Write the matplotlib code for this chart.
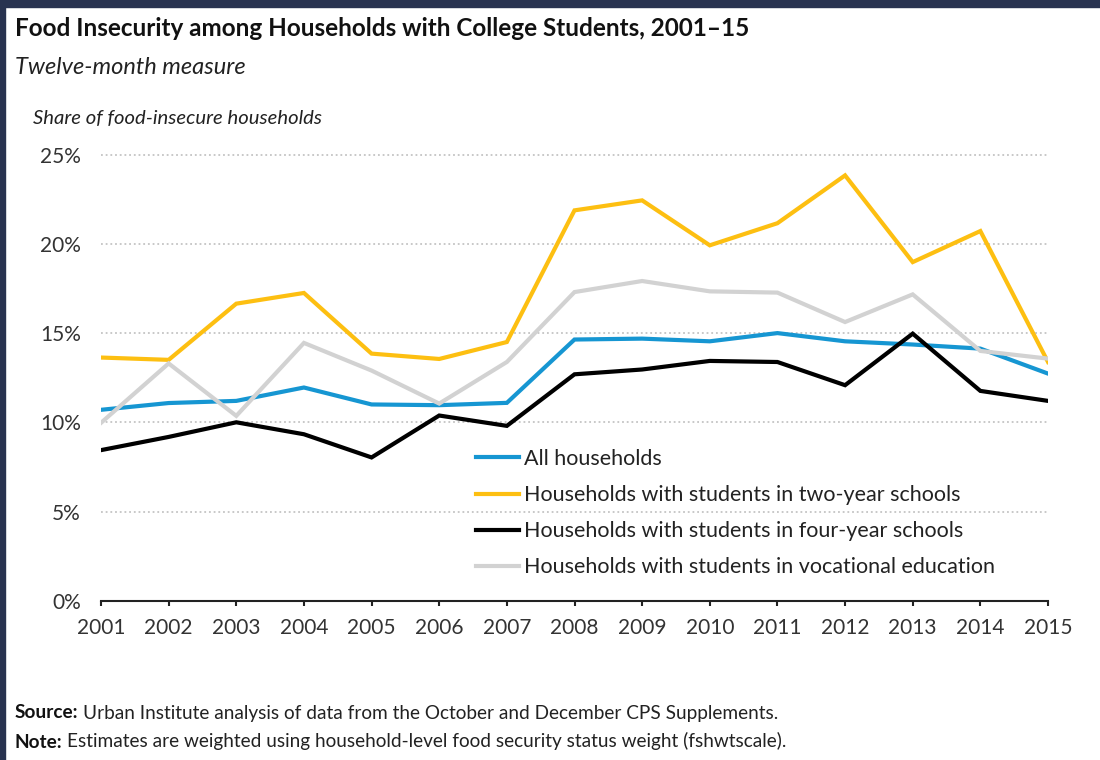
import matplotlib
matplotlib.use("Agg")
import matplotlib.pyplot as plt
from matplotlib.patches import Rectangle

plt.rcParams['font.family'] = ['Lato', 'DejaVu Sans']

# Data (share of food-insecure households, %)
years = list(range(2001, 2016))
all_households = [10.7, 11.08, 11.2, 11.95, 11.0, 10.96, 11.09, 14.64, 14.69, 14.54, 15.0, 14.54, 14.36, 14.13, 12.73]
two_year = [13.63, 13.5, 16.65, 17.25, 13.85, 13.55, 14.5, 21.88, 22.44, 19.92, 21.16, 23.84, 18.98, 20.72, 13.38]
four_year = [8.44, 9.18, 10.0, 9.33, 8.03, 10.38, 9.8, 12.69, 12.96, 13.44, 13.38, 12.08, 14.97, 11.76, 11.2]
vocational = [9.97, 13.3, 10.36, 14.45, 12.9, 11.05, 13.38, 17.3, 17.92, 17.34, 17.27, 15.62, 17.17, 14.0, 13.57]

labels = ['All households',
          'Households with students in two-year schools',
          'Households with students in four-year schools',
          'Households with students in vocational education']
colors = ['#1696d2', '#fdbf11', '#000000', '#d2d2d2']
yticks = [0, 5, 10, 15, 20, 25]

W, H = 1100, 760
fig = plt.figure(figsize=(W / 100, H / 100), dpi=100)

# dark frame on top and left
fig.patches.append(Rectangle((0, 1 - 7 / H), 1, 7 / H, transform=fig.transFigure, color='#283350', zorder=0))
fig.patches.append(Rectangle((0, 0), 5 / W, 1, transform=fig.transFigure, color='#283350', zorder=0))

ax = fig.add_axes([101 / W, 1 - 600.7 / H, (1048 - 101) / W, (600.7 - 154.7) / H])
ax.set_xlim(2001, 2015)
ax.set_ylim(0, 25)

for series, lab, col in zip([all_households, two_year, four_year, vocational], labels, colors):
    ax.plot(years, series, color=col, lw=3, label=lab, solid_joinstyle='miter', zorder=3)

# gridlines
for y in yticks[1:]:
    ax.axhline(y, color='#c4c4c4', lw=1.3, linestyle=(0, (1, 1.6)), zorder=1, clip_on=False)

for s in ['top', 'right', 'left']:
    ax.spines[s].set_visible(False)
ax.spines['bottom'].set_color('#222222')
ax.spines['bottom'].set_linewidth(1.5)

ax.set_xticks(years)
ax.set_xticklabels([str(y) for y in years])
ax.set_yticks(yticks)
ax.set_yticklabels([f'{y}%' for y in yticks])
ax.tick_params(axis='x', length=3.6, width=1.5, color='#222222', labelsize=15, labelcolor='#333333', pad=9)
ax.tick_params(axis='y', length=0, labelsize=15, labelcolor='#333333', pad=14.4)

ax.legend(loc='upper left', bbox_to_anchor=(476 / W, 1 - 449 / H), bbox_transform=fig.transFigure,
          frameon=False, fontsize=15.5, handlelength=2.0, handletextpad=0.23, labelspacing=0.75,
          borderpad=0, borderaxespad=0, labelcolor='#222222')

fig.text(15 / W, 1 - 28 / H, 'Food Insecurity among Households with College Students, 2001–15',
         fontsize=17.5, fontweight='bold', color='#111111', va='center', ha='left')
fig.text(15 / W, 1 - 67 / H, 'Twelve-month measure', fontsize=17, style='italic',
         color='#222222', va='center', ha='left')
fig.text(33 / W, 1 - 118 / H, 'Share of food-insecure households', fontsize=14.6, style='italic',
         color='#222222', va='center', ha='left')

src = fig.text(15 / W, 1 - 721.5 / H, 'Source:', fontsize=13.7, fontweight='bold', color='#111111', va='bottom')
ax.annotate('Urban Institute analysis of data from the October and December CPS Supplements.',
            xy=(1, 0), xycoords=src, xytext=(3, 0), textcoords='offset points',
            fontsize=13.7, color='#222222', va='bottom', ha='left')
note = fig.text(15 / W, 1 - 750.5 / H, 'Note:', fontsize=13.7, fontweight='bold', color='#111111', va='bottom')
ax.annotate('Estimates are weighted using household-level food security status weight (fshwtscale).',
            xy=(1, 0), xycoords=note, xytext=(3, 0), textcoords='offset points',
            fontsize=13.7, color='#222222', va='bottom', ha='left')

fig.savefig('out.png', dpi=100)
